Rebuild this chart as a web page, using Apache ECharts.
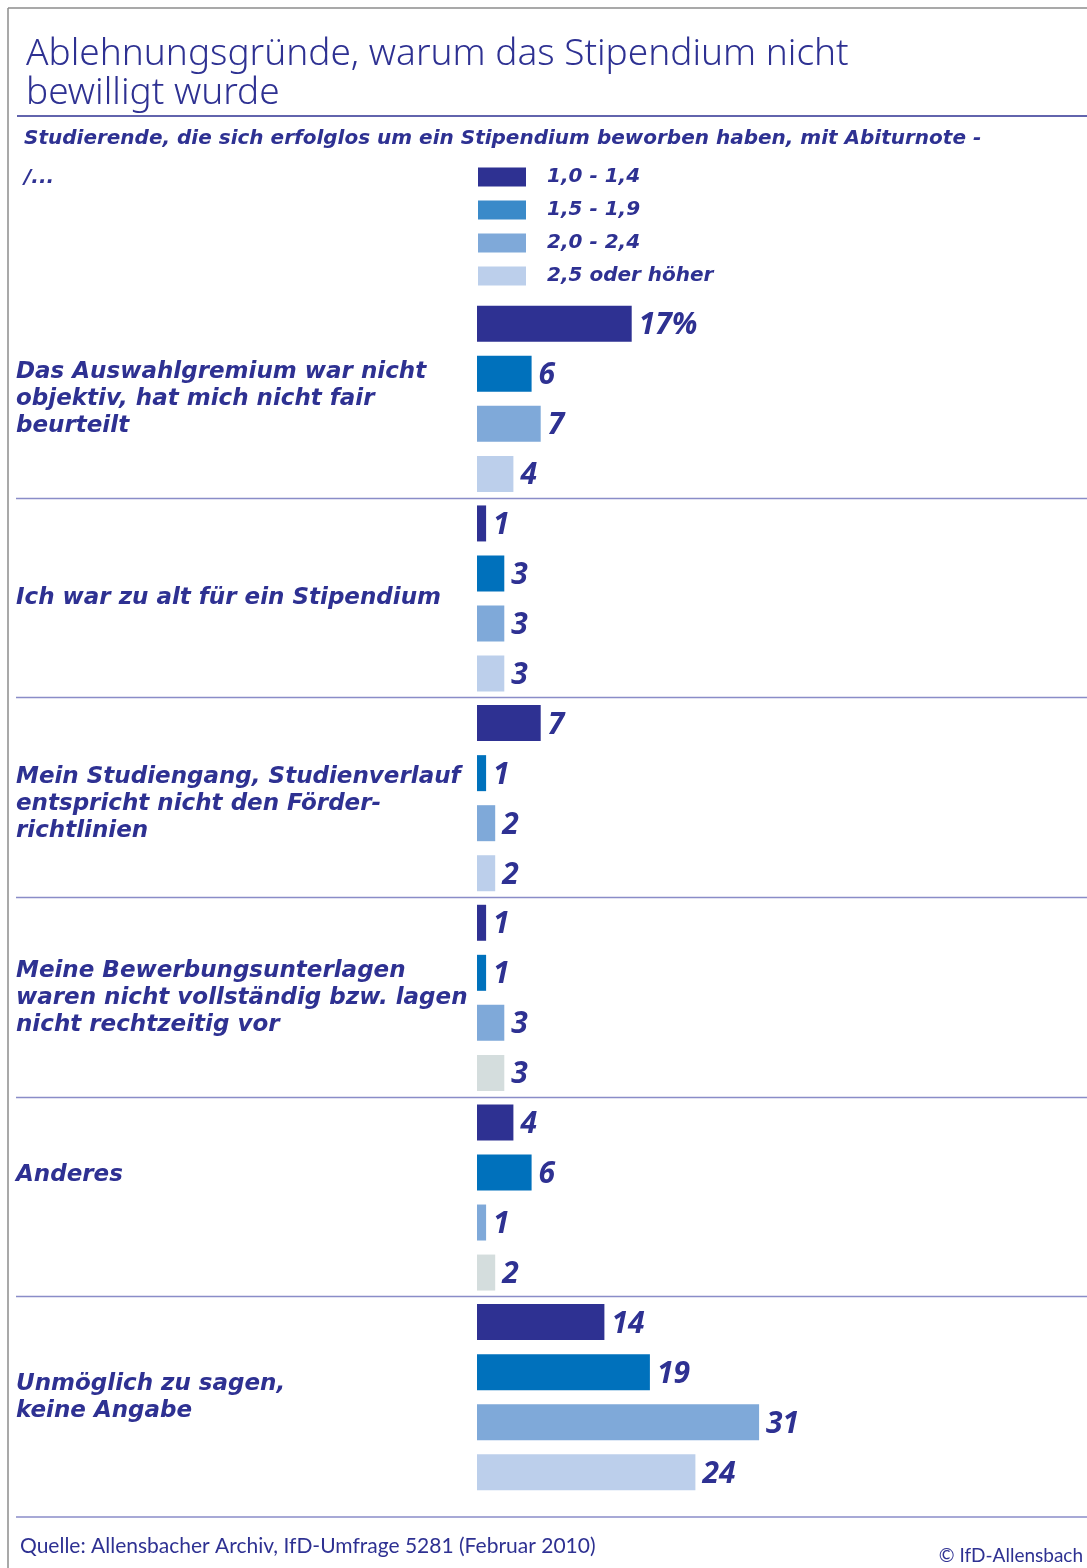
<!DOCTYPE html>
<html>
<head>
<meta charset="utf-8">
<script src="https://cdn.jsdelivr.net/npm/echarts@6/dist/echarts.min.js"></script>
<style>
  html, body { margin: 0; padding: 0; background: #fff; }
  #chart { width: 1087px; height: 1568px; }
</style>
</head>
<body>
<div id="chart"></div>
<script>
// data
const categories = [
  'Das Auswahlgremium war nicht\nobjektiv, hat mich nicht fair\nbeurteilt',
  'Ich war zu alt für ein Stipendium',
  'Mein Studiengang, Studienverlauf\nentspricht nicht den Förder-\nrichtlinien',
  'Meine Bewerbungsunterlagen\nwaren nicht vollständig bzw. lagen\nnicht rechtzeitig vor',
  'Anderes',
  'Unmöglich zu sagen,\nkeine Angabe'
];
const groups = ['1,0 - 1,4', '1,5 - 1,9', '2,0 - 2,4', '2,5 oder höher'];
const note10to14 = [17, 1, 7, 1, 4, 14];
const note15to19 = [6, 3, 1, 1, 6, 19];
const note20to24 = [7, 3, 2, 3, 1, 31];
const note25plus = [4, 3, 2, 3, 2, 24];
const greyIdx = [3, 4]; // bars printed grey in the source

const NAVY = '#2e3192';
const barColors = ['#2e3192', '#0071bc', '#7fa9d9', '#bccfeb'];
const legendColors = ['#2e3192', '#3a8ac9', '#7fa9d9', '#bccfeb'];
const LINE = '#8a8dc8';
const FONT = '"DejaVu Sans", sans-serif';
const NUMFONT = '"Open Sans", sans-serif';

const chart = echarts.init(document.getElementById('chart'));

const valueLabel = {
  show: true,
  position: 'right',
  distance: 7,
  offset: [0, 2],
  color: NAVY,
  fontFamily: NUMFONT,
  fontSize: 30,
  fontWeight: 'bold',
  fontStyle: 'italic',
  formatter: (p) => (p.seriesIndex === 0 && p.dataIndex === 0 ? p.value + '%' : p.value)
};

function makeSeries(i, values) {
  return {
    name: groups[i],
    type: 'bar',
    barWidth: 36,
    barGap: '39%',
    itemStyle: { color: barColors[i] },
    label: valueLabel,
    data: values.map((v, k) => (i === 3 && greyIdx.indexOf(k) >= 0)
      ? { value: v, itemStyle: { color: '#d4dddd' } }
      : v)
  };
}

const gridTop = 299;
const gridHeight = 1198;

// separators between answer groups sit on the category boundaries
const separators = [];
for (let k = 1; k < categories.length; k++) {
  const y = Math.round(gridTop + k * gridHeight / categories.length) - 0.5;
  separators.push({ type: 'line', shape: { x1: 16, y1: y, x2: 1087, y2: y }, style: { stroke: LINE, lineWidth: 1.5 } });
}

const option = {
  animation: false,
  backgroundColor: '#fff',
  title: [
    {
      text: 'Ablehnungsgründe, warum das Stipendium nicht\nbewilligt wurde',
      left: 26, top: 35, padding: 0,
      textStyle: { color: NAVY, fontFamily: '"Noto Sans", sans-serif', fontWeight: 300, fontSize: 37, lineHeight: 39 }
    },
    {
      text: 'Studierende, die sich erfolglos um ein Stipendium beworben haben, mit Abiturnote -\n/...',
      left: 24, top: 119, padding: 0,
      textStyle: { color: NAVY, fontFamily: FONT, fontWeight: 'bold', fontStyle: 'italic', fontSize: 20, lineHeight: 39 }
    },
    {
      text: 'Quelle: Allensbacher Archiv, IfD-Umfrage 5281 (Februar 2010)',
      left: 20, top: 1536, padding: 0,
      textStyle: { color: NAVY, fontFamily: 'Lato, sans-serif', fontWeight: 'normal', fontSize: 21 }
    },
    {
      text: '© IfD-Allensbach',
      right: 4, top: 1546, padding: 0,
      textStyle: { color: NAVY, fontFamily: 'Lato, sans-serif', fontWeight: 'normal', fontSize: 19 }
    }
  ],
  legend: {
    orient: 'vertical',
    left: 478, top: 165, padding: 0,
    itemWidth: 48, itemHeight: 19, itemGap: 9,
    icon: 'rect',
    selectedMode: false,
    textStyle: {
      color: NAVY, fontFamily: FONT, fontSize: 20, fontWeight: 'bold', fontStyle: 'italic',
      lineHeight: 24, padding: [0, 0, 0, 16]
    },
    data: groups.map((g, i) => ({ name: g, itemStyle: { color: legendColors[i] } }))
  },
  graphic: [
    // outer frame (top and left edge)
    { type: 'line', shape: { x1: 8, y1: 8, x2: 1087, y2: 8 }, style: { stroke: '#8c8c8c', lineWidth: 1.5 } },
    { type: 'line', shape: { x1: 8, y1: 8, x2: 8, y2: 1568 }, style: { stroke: '#8c8c8c', lineWidth: 1.5 } },
    // rule under the title
    { type: 'line', shape: { x1: 17, y1: 116, x2: 1087, y2: 116 }, style: { stroke: NAVY, lineWidth: 1.5 } },
    // rule above the source line
    { type: 'line', shape: { x1: 16, y1: 1517, x2: 1087, y2: 1517 }, style: { stroke: LINE, lineWidth: 1.5 } }
  ].concat(separators),
  grid: {
    left: 477, right: 64, top: gridTop, height: gridHeight,
    containLabel: false, outerBoundsMode: 'none'
  },
  xAxis: { type: 'value', min: 0, max: 60, show: false },
  yAxis: {
    type: 'category', inverse: true, data: categories,
    axisLine: { show: false }, axisTick: { show: false }, splitLine: { show: false },
    axisLabel: {
      margin: 461, align: 'left',
      color: NAVY, fontFamily: FONT, fontSize: 23, lineHeight: 27,
      fontWeight: 'bold', fontStyle: 'italic',
      // the source sets two of the texts slightly off centre
      formatter: (v, i) => (i === 4 ? v + '\n{sp44| }' : i === 2 ? '{sp12| }\n' + v : v),
      rich: {
        sp44: { lineHeight: 44, fontSize: 10 },
        sp12: { lineHeight: 12, fontSize: 10 }
      }
    }
  },
  series: [
    makeSeries(0, note10to14),
    makeSeries(1, note15to19),
    makeSeries(2, note20to24),
    makeSeries(3, note25plus)
  ]
};

chart.setOption(option);
</script>
</body>
</html>
